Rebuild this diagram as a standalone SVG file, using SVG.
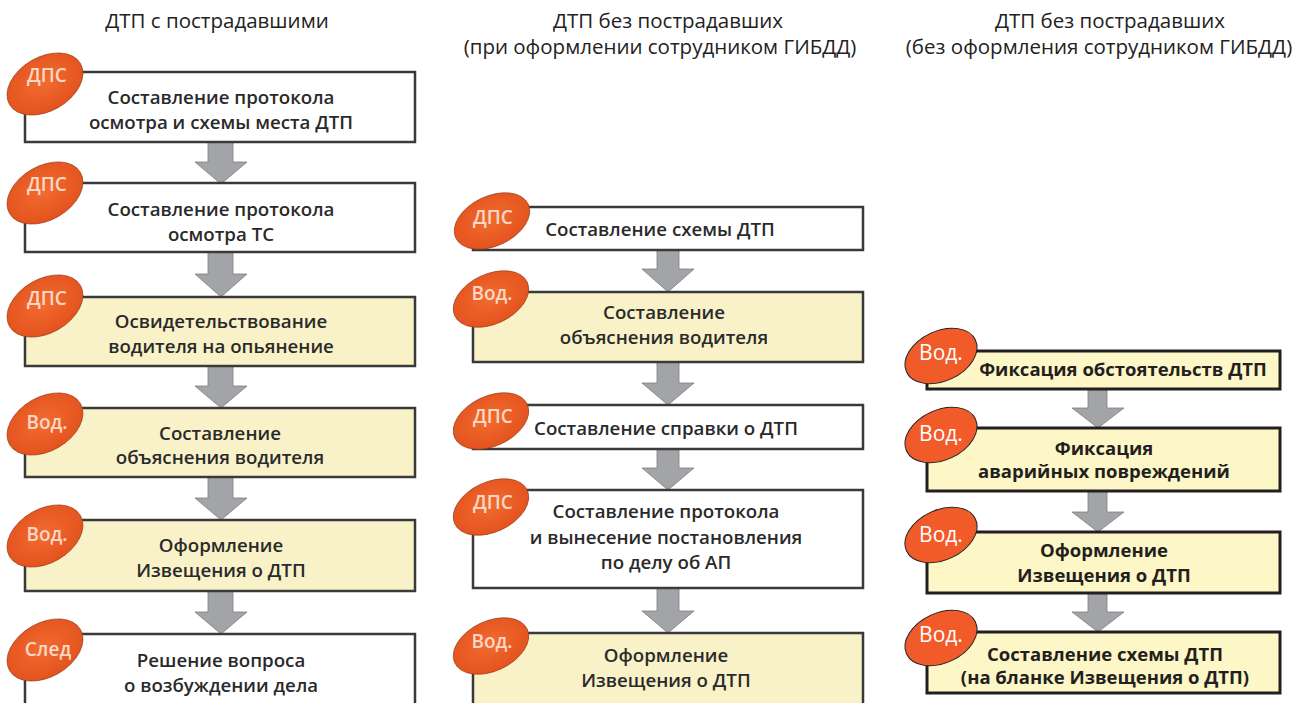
<svg xmlns="http://www.w3.org/2000/svg" width="1296" height="703" viewBox="0 0 1296 703">
<defs>
<radialGradient id="og" cx="0.5" cy="0.45" r="0.6">
<stop offset="0" stop-color="#F26C30"/>
<stop offset="1" stop-color="#E2501C"/>
</radialGradient>
<style>
.title{font-family:"Open Sans","Liberation Sans",sans-serif;font-size:20.5px;fill:#222;text-anchor:middle}
.bw{fill:#fff;stroke:#3a3a3a;stroke-width:2.5}
.by{fill:#F9F2C8;stroke:#3a3a3a;stroke-width:2.5}
.b3{fill:#FDF6C6;stroke:#231F20;stroke-width:3}
.t{font-family:"Open Sans","Liberation Sans",sans-serif;font-size:18.7px;font-weight:600;fill:#2a2a2a;text-anchor:middle}
.t3{font-family:"Open Sans","Liberation Sans",sans-serif;font-size:18.5px;font-weight:700;fill:#231F20;text-anchor:middle}
.e{fill:url(#og);stroke:#8a3a18;stroke-width:0.6}
.e3{fill:#F15A29;stroke:#231F20;stroke-width:1}
.et{font-family:"Open Sans","Liberation Sans",sans-serif;font-size:19px;font-weight:600;fill:#FBD8C6;text-anchor:middle}
.et3{font-family:"Open Sans","Liberation Sans",sans-serif;font-size:21px;fill:#fff;text-anchor:middle}
.ar{fill:#A3A4A7;stroke:#7d7e81;stroke-width:0.8}
</style>
</defs>
<rect width="1296" height="703" fill="#fff"/>

<g id="titles">
<text class="title" x="217" y="28">ДТП с пострадавшими</text>
<text class="title" x="668" y="28">ДТП без пострадавших</text>
<text class="title" x="660" y="54">(при оформлении сотрудником ГИБДД)</text>
<text class="title" x="1110" y="28">ДТП без пострадавших</text>
<text class="title" x="1099" y="54">(без оформления сотрудником ГИБДД)</text>
</g>

<g id="connectors">
<polygon class="ar" points="208,142 233,142 233,162 247,162 221,184 195,162 208,162"/>
<polygon class="ar" points="208,252 233,252 233,274 247,274 221,297 195,274 208,274"/>
<polygon class="ar" points="208,366 233,366 233,386 247,386 221,408 195,386 208,386"/>
<polygon class="ar" points="208,477 233,477 233,498 247,498 221,520 195,498 208,498"/>
<polygon class="ar" points="208,591 233,591 233,612 247,612 221,634 195,612 208,612"/>

<polygon class="ar" points="657,250 679,250 679,269 694,269 668,292 642,269 657,269"/>
<polygon class="ar" points="657,362 679,362 679,383 694,383 668,405 642,383 657,383"/>
<polygon class="ar" points="657,449 679,449 679,468 694,468 668,490 642,468 657,468"/>
<polygon class="ar" points="657,588 679,588 679,611 694,611 668,633 642,611 657,611"/>

<polygon class="ar" points="1088,389 1107,389 1107,408 1124,408 1098,428 1072,408 1088,408"/>
<polygon class="ar" points="1088,491 1107,491 1107,512 1124,512 1098,532 1072,512 1088,512"/>
<polygon class="ar" points="1088,593 1107,593 1107,612 1124,612 1098,632 1072,612 1088,612"/>
</g>

<!-- Column 1 -->
<g id="c1n1">
<rect class="bw" x="25" y="72" width="390" height="70"/>
<ellipse class="e" cx="45" cy="84" rx="41" ry="27" transform="rotate(-30 45 84)"/>
<text class="et" x="47" y="82">ДПС</text>
<text class="t" x="221" y="104">Составление протокола</text>
<text class="t" x="221" y="129">осмотра и схемы места ДТП</text>
</g>
<g id="c1n2">
<rect class="bw" x="25" y="183" width="390" height="69"/>
<ellipse class="e" cx="45" cy="193" rx="41" ry="27" transform="rotate(-30 45 193)"/>
<text class="et" x="47" y="191">ДПС</text>
<text class="t" x="221" y="216">Составление протокола</text>
<text class="t" x="221" y="241">осмотра ТС</text>
</g>
<g id="c1n3">
<rect class="by" x="25" y="297" width="390" height="69"/>
<ellipse class="e" cx="45" cy="306" rx="41" ry="27" transform="rotate(-30 45 306)"/>
<text class="et" x="47" y="305">ДПС</text>
<text class="t" x="221" y="328">Освидетельствование</text>
<text class="t" x="221" y="353">водителя на опьянение</text>
</g>
<g id="c1n4">
<rect class="by" x="25" y="408" width="390" height="69"/>
<ellipse class="e" cx="45" cy="424" rx="41" ry="27" transform="rotate(-30 45 424)"/>
<text class="et" x="47" y="429">Вод.</text>
<text class="t" x="220" y="440">Составление</text>
<text class="t" x="220" y="464">объяснения водителя</text>
</g>
<g id="c1n5">
<rect class="by" x="25" y="520" width="390" height="71"/>
<ellipse class="e" cx="45" cy="536" rx="41" ry="27" transform="rotate(-30 45 536)"/>
<text class="et" x="47" y="541">Вод.</text>
<text class="t" x="221" y="552">Оформление</text>
<text class="t" x="221" y="577">Извещения о ДТП</text>
</g>
<g id="c1n6">
<rect class="bw" x="25" y="634" width="390" height="80"/>
<ellipse class="e" cx="45" cy="650" rx="41" ry="27" transform="rotate(-30 45 650)"/>
<text class="et" x="48" y="656">След</text>
<text class="t" x="221" y="667">Решение вопроса</text>
<text class="t" x="221" y="692">о возбуждении дела</text>
</g>

<!-- Column 2 -->
<g id="c2n1">
<rect class="bw" x="473" y="207" width="390" height="43"/>
<ellipse class="e" cx="492" cy="221" rx="40" ry="25" transform="rotate(-25 492 221)"/>
<text class="et" x="493" y="224">ДПС</text>
<text class="t" x="660" y="236">Составление схемы ДТП</text>
</g>
<g id="c2n2">
<rect class="by" x="473" y="292" width="390" height="70"/>
<ellipse class="e" cx="491" cy="299" rx="40" ry="25" transform="rotate(-25 491 299)"/>
<text class="et" x="492" y="300">Вод.</text>
<text class="t" x="664" y="319">Составление</text>
<text class="t" x="664" y="344">объяснения водителя</text>
</g>
<g id="c2n3">
<rect class="bw" x="473" y="405" width="390" height="44"/>
<ellipse class="e" cx="491" cy="421" rx="40" ry="25" transform="rotate(-25 491 421)"/>
<text class="et" x="493" y="423">ДПС</text>
<text class="t" x="666" y="435">Составление справки о ДТП</text>
</g>
<g id="c2n4">
<rect class="bw" x="473" y="490" width="390" height="98"/>
<ellipse class="e" cx="491" cy="507" rx="40" ry="25" transform="rotate(-25 491 507)"/>
<text class="et" x="493" y="509">ДПС</text>
<text class="t" x="666" y="518">Составление протокола</text>
<text class="t" x="666" y="544">и вынесение постановления</text>
<text class="t" x="666" y="569">по делу об АП</text>
</g>
<g id="c2n5">
<rect class="by" x="473" y="633" width="390" height="80"/>
<ellipse class="e" cx="491" cy="646" rx="40" ry="25" transform="rotate(-25 491 646)"/>
<text class="et" x="492" y="648">Вод.</text>
<text class="t" x="666" y="662">Оформление</text>
<text class="t" x="666" y="687">Извещения о ДТП</text>
</g>

<!-- Column 3 -->
<g id="c3n1">
<rect class="b3" x="927" y="351" width="353" height="38"/>
<ellipse class="e3" cx="941" cy="356" rx="38" ry="25" transform="rotate(-25 941 356)"/>
<text class="et3" x="941" y="360">Вод.</text>
<text class="t3" x="1123" y="376">Фиксация обстоятельств ДТП</text>
</g>
<g id="c3n2">
<rect class="b3" x="927" y="428" width="353" height="63"/>
<ellipse class="e3" cx="941" cy="435" rx="38" ry="25" transform="rotate(-25 941 435)"/>
<text class="et3" x="941" y="441">Вод.</text>
<text class="t3" x="1104" y="455">Фиксация</text>
<text class="t3" x="1104" y="478">аварийных повреждений</text>
</g>
<g id="c3n3">
<rect class="b3" x="927" y="532" width="353" height="61"/>
<ellipse class="e3" cx="941" cy="535" rx="38" ry="25" transform="rotate(-25 941 535)"/>
<text class="et3" x="941" y="542">Вод.</text>
<text class="t3" x="1104" y="557">Оформление</text>
<text class="t3" x="1104" y="582">Извещения о ДТП</text>
</g>
<g id="c3n4">
<rect class="b3" x="927" y="632" width="353" height="61"/>
<ellipse class="e3" cx="941" cy="638" rx="38" ry="25" transform="rotate(-25 941 638)"/>
<text class="et3" x="941" y="642">Вод.</text>
<text class="t3" x="1105" y="661">Составление схемы ДТП</text>
<text class="t3" x="1105" y="684">(на бланке Извещения о ДТП)</text>
</g>
</svg>
